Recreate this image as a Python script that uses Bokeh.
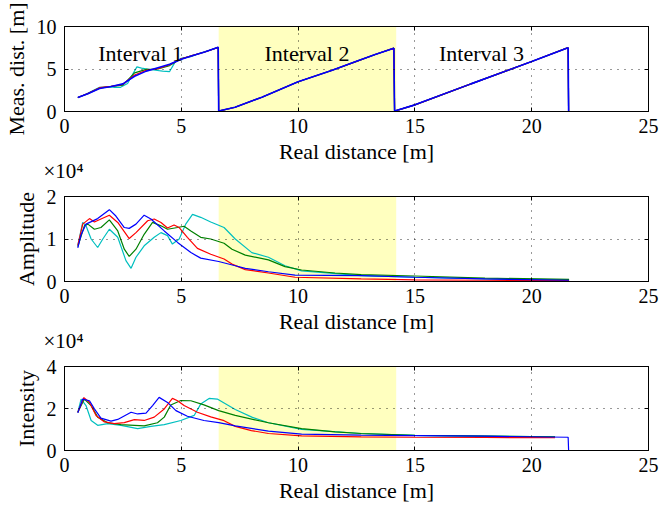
from bokeh.plotting import figure
from bokeh.layouts import column
from bokeh.models import (Range1d, FixedTicker, LinearAxis, BoxAnnotation, Label, Title,
                          CustomJSTickFormatter)
from bokeh.embed import file_html
from bokeh.resources import INLINE

FONT = "Liberation Serif"
C_CYAN, C_GREEN, C_RED, C_BLUE = "#00BFBF", "#008000", "#FF0000", "#0000FF"

# ---------------- data: measured distance (interval 1 differs per sensor) -------------
i1_d = [0.57, 1.0, 1.5, 2.0, 2.5, 3.0, 3.5, 4.0, 4.5, 5.0, 5.5, 6.0, 6.58]
i1_blue = [1.65, 2.1, 2.7, 2.95, 3.25, 4.15, 4.75, 5.15, 5.55, 6.15, 6.6, 7.0, 7.55]
i1_red = [1.65, 2.12, 2.8, 2.95, 3.2, 4.3, 4.85, 5.05, 5.5, 6.2, 6.6, 7.0, 7.55]
i1_green = [1.65, 2.1, 2.75, 2.95, 3.1, 4.55, 4.95, 5.0, 5.4, 6.2, 6.6, 7.0, 7.55]
cy_d = [0.57, 0.9, 1.2, 1.5, 1.8, 2.1, 2.4, 2.7, 2.9, 3.1, 3.3, 3.6, 3.9, 4.2, 4.5,
        4.75, 5.0, 5.4, 5.8, 6.2, 6.58]
cy_v = [1.65, 2.0, 2.45, 2.85, 2.9, 2.85, 2.85, 3.3, 4.3, 5.25, 5.1, 4.95, 4.85, 4.75,
        4.7, 5.9, 6.25, 6.45, 6.85, 7.2, 7.55]
# intervals 2 and 3 (all sensors coincide)
ramp_d = [6.60, 7.3, 8.45, 10.0, 11.43, 12.5, 13.3, 14.10, 14.13, 15.0, 17.4, 20.0,
          21.5, 21.56, 21.58]
ramp_v = [0.05, 0.5, 1.68, 3.5, 4.82, 5.9, 6.7, 7.45, 0.05, 0.78, 3.25, 5.88,
          7.45, 7.5, 0.0]

# ---------------- data: amplitude ----------------
amp_blue_d = [0.57, 0.71, 0.92, 1.42, 1.92, 2.2, 2.56, 2.77, 3.06, 3.41, 3.7, 4.27, 4.84,
              5.41, 5.83, 6.6, 7.31, 7.74, 8.73, 9.87, 12.7, 15.0, 18.0, 21.6]
amp_blue = [7900, 11000, 13500, 14800, 16900, 15400, 12700, 12500, 13500, 15600, 14700,
            11900, 9200, 6800, 5500, 4700, 3700, 3100, 2300, 1500, 1400, 1000, 600, 300]
amp_red_d = [0.57, 0.78, 1.07, 1.28, 1.56, 1.92, 2.28, 2.77, 3.06, 3.56, 3.84, 4.13, 4.41,
             4.69, 4.91, 5.26, 5.69, 6.26, 6.83, 7.17, 7.74, 8.73, 9.87, 12.7, 15.0, 18.0,
             21.6]
amp_red = [8500, 13500, 14800, 14000, 14700, 15600, 13900, 10100, 11500, 14300, 14700,
           13900, 12600, 13300, 12700, 10400, 7800, 6400, 5300, 4100, 2800, 2000, 1000,
           600, 400, 300, 200]
amp_green_d = [0.57, 0.85, 1.0, 1.28, 1.56, 1.92, 2.28, 2.56, 2.77, 3.06, 3.41, 3.77, 4.13,
               4.41, 4.84, 5.12, 5.41, 5.83, 6.26, 6.83, 7.17, 7.74, 8.73, 9.44, 10.15,
               11.58, 12.7, 15.0, 18.0, 21.6]
amp_green = [8200, 13100, 13500, 12300, 12700, 14500, 11900, 7600, 5900, 7600, 11100,
             13900, 13100, 12300, 12700, 13000, 11900, 10400, 10000, 9000, 7600, 6200,
             5100, 3500, 2700, 2000, 1600, 1300, 800, 500]
amp_cyan_d = [0.57, 0.78, 0.92, 1.14, 1.42, 1.64, 1.92, 2.28, 2.63, 2.85, 3.06, 3.41, 3.84,
              4.13, 4.41, 4.62, 4.91, 5.19, 5.48, 5.83, 6.26, 6.83, 7.31, 8.02, 8.73, 9.44,
              10.15, 12.7, 15.0, 18.0, 21.6]
amp_cyan = [8500, 13900, 13100, 10000, 8000, 10000, 12300, 10400, 4900, 3100, 5700, 8400,
            10400, 11500, 10800, 8800, 10000, 13500, 15800, 15100, 14000, 12700, 10000,
            6800, 5700, 3700, 2500, 1400, 1000, 600, 400]

# ---------------- data: intensity ----------------
int_blue_d = [0.57, 0.78, 1.07, 1.28, 1.56, 1.99, 2.28, 2.85, 3.13, 3.49, 3.77, 4.05, 4.41,
              4.77, 5.26, 5.97, 6.6, 7.31, 8.73, 10.15, 12.7, 15.0, 18.0, 21.56, 21.58]
int_blue = [17900, 24500, 23700, 19800, 15400, 14000, 14800, 18200, 17400, 17800, 21400,
            25300, 22900, 19000, 16300, 14300, 13300, 11700, 9200, 7800, 7300, 7100, 6800,
            6300, 0]
int_red_d = [0.57, 0.83, 1.07, 1.35, 1.71, 2.13, 2.56, 2.99, 3.41, 3.84, 4.27, 4.62, 4.84,
             5.12, 5.69, 6.26, 6.83, 7.31, 8.0, 8.73, 10.15, 12.7, 15.0, 18.0, 21.0]
int_red = [18200, 25200, 22900, 16700, 13600, 12800, 13300, 14700, 14300, 15900, 19800,
           24800, 23700, 21400, 18200, 16000, 14200, 11500, 9500, 8100, 7000, 6500, 6300,
           6200, 6100]
int_green_d = [0.57, 0.85, 1.14, 1.42, 1.85, 2.42, 2.99, 3.41, 3.98, 4.27, 4.55, 4.98, 5.41,
               5.97, 6.6, 7.31, 8.73, 10.15, 11.58, 12.7, 15.0, 18.0, 21.0]
int_green = [18200, 24500, 21400, 15900, 13200, 12300, 12000, 11700, 13200, 15900, 21700,
             23800, 23700, 21700, 19000, 16700, 13200, 10400, 8900, 8100, 7200, 6800, 6500]
int_cyan_d = [0.57, 0.71, 0.92, 1.14, 1.42, 1.85, 2.42, 3.13, 3.7, 4.27, 4.98, 5.55, 5.83,
              6.19, 6.54, 7.31, 8.02, 8.73, 10.15, 12.7, 15.0, 18.0, 21.0]
int_cyan = [18200, 24500, 21400, 14300, 12000, 12800, 12000, 10400, 11500, 12300, 14300,
            16700, 22100, 24800, 24500, 19500, 15900, 13200, 10100, 8100, 7200, 6800, 6500]

x_ticks = [0, 5, 10, 15, 20, 25]
shade_left, shade_right = 6.6, 14.2
scale_text = "\u00d710\u2074"


def inner_axis(ticks):
    return LinearAxis(ticker=FixedTicker(ticks=ticks), major_label_text_font_size="1px",
                      major_label_text_color=None, major_label_standoff=0,
                      major_tick_in=4, major_tick_out=0, minor_tick_line_color=None,
                      axis_line_color="black", major_tick_line_color="black")


def make_fig(height, top, bottom, ylabel, y_end, y_ticks, scale):
    p = figure(width=660, height=height, x_range=Range1d(0, 25), y_range=Range1d(0, y_end),
               output_backend="svg", toolbar_location=None, title=None,
               min_border_left=62, min_border_right=12, min_border_top=top,
               min_border_bottom=bottom)
    p.outline_line_color = "black"
    p.outline_line_alpha = 1.0
    p.outline_line_width = 1
    box = BoxAnnotation(left=shade_left, right=shade_right, fill_color="#FFFFBF",
                        fill_alpha=1.0, line_color=None, level="underlay")
    p.add_layout(box)
    for g, t in ((p.xgrid[0], [5, 10, 15, 20]), (p.ygrid[0], y_ticks[1:-1])):
        g.ticker = FixedTicker(ticks=t)
        g.grid_line_color = "black"
        g.grid_line_dash = "1 6"
        g.grid_line_alpha = 0.8
        g.level = "glyph"
    xa, ya = p.xaxis[0], p.yaxis[0]
    xa.ticker = FixedTicker(ticks=x_ticks)
    ya.ticker = FixedTicker(ticks=y_ticks)
    if scale != 1:
        ya.formatter = CustomJSTickFormatter(code="return (tick/%g).toFixed(0);" % scale)
    xa.axis_label = "Real distance [m]"
    ya.axis_label = ylabel
    for a in (xa, ya):
        a.major_tick_in = 4
        a.major_tick_out = 0
        a.minor_tick_line_color = None
        a.axis_line_color = "black"
        a.major_tick_line_color = "black"
        a.major_label_text_font = FONT
        a.major_label_text_font_size = "20px"
        a.major_label_text_color = "black"
        a.axis_label_text_font = FONT
        a.axis_label_text_font_size = "22px"
        a.axis_label_text_font_style = "normal"
        a.axis_label_text_color = "black"
    xa.major_label_standoff = 7
    xa.axis_label_standoff = 3
    ya.major_label_standoff = 8
    ya.axis_label_standoff = 5
    p.add_layout(inner_axis(x_ticks), "above")
    p.add_layout(inner_axis(y_ticks), "right")
    return p


def add_scale_note(p):
    # the "x10^4" factor of the next panel, placed just under this panel's axis label
    t = Title(text=scale_text, align="left", offset=-21, standoff=-15,
              vertical_align="top", text_font=FONT, text_font_size="21px",
              text_font_style="normal", text_color="black")
    p.add_layout(t, "below")


# ---- top plot
p1 = make_fig(184, 26, 73, "Meas. dist. [m]", 10, [0, 5, 10], 1)
p1.line(cy_d + ramp_d, cy_v + ramp_v, color=C_CYAN, line_width=1.2)
p1.line(i1_d + ramp_d, i1_green + ramp_v, color=C_GREEN, line_width=1.2)
p1.line(i1_d + ramp_d, i1_red + ramp_v, color=C_RED, line_width=1.2)
p1.line(i1_d + ramp_d, i1_blue + ramp_v, color=C_BLUE, line_width=1.6)
for txt, xx in (("Interval 1", 3.26), ("Interval 2", 10.38), ("Interval 3", 17.85)):
    p1.add_layout(Label(x=xx, y=6.8, text=txt, text_font=FONT, text_font_size="22px",
                        text_color="black", text_align="center",
                        text_baseline="alphabetic"))
add_scale_note(p1)

# ---- amplitude plot
p2 = make_fig(170, 12, 73, "Amplitude", 20000, [0, 10000, 20000], 10000)
p2.line(amp_cyan_d, amp_cyan, color=C_CYAN, line_width=1.2)
p2.line(amp_green_d, amp_green, color=C_GREEN, line_width=1.2)
p2.line(amp_red_d, amp_red, color=C_RED, line_width=1.2)
p2.line(amp_blue_d, amp_blue, color=C_BLUE, line_width=1.2)
add_scale_note(p2)

# ---- intensity plot
p3 = make_fig(153, 12, 57, "Intensity", 40000, [0, 20000, 40000], 10000)
p3.line(int_cyan_d, int_cyan, color=C_CYAN, line_width=1.2)
p3.line(int_green_d, int_green, color=C_GREEN, line_width=1.2)
p3.line(int_red_d, int_red, color=C_RED, line_width=1.2)
p3.line(int_blue_d, int_blue, color=C_BLUE, line_width=1.2)

layout = column(p1, p2, p3, spacing=0)
open("out.html", "w").write(file_html(layout, INLINE))
